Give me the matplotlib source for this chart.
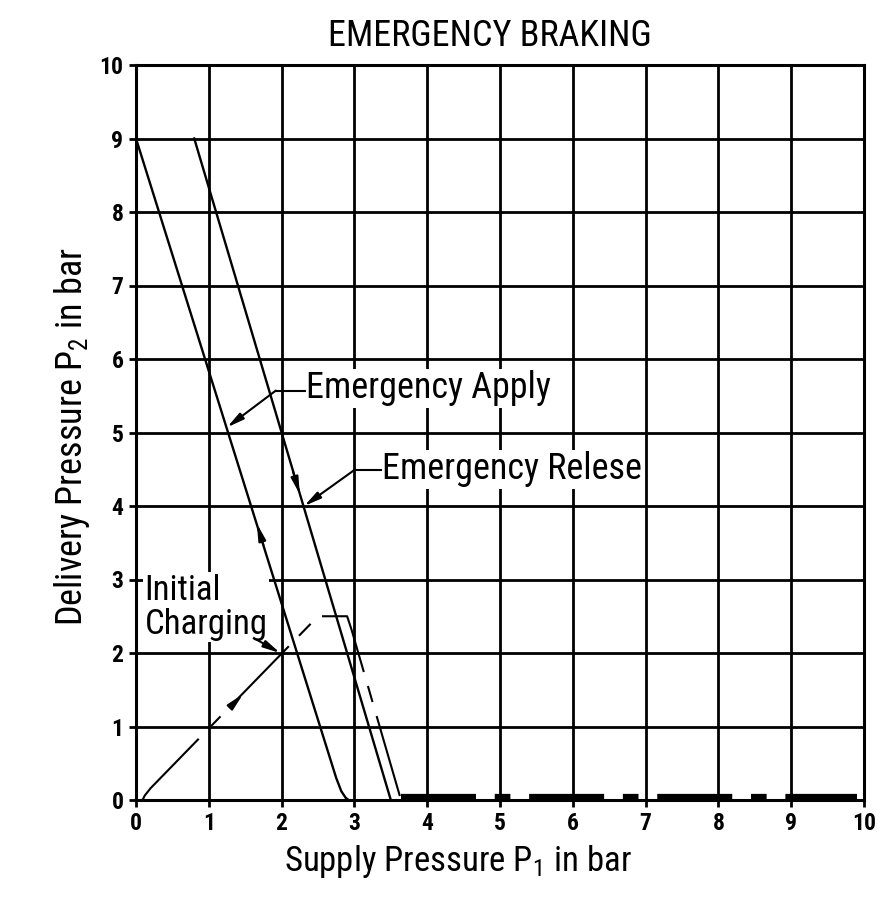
import numpy as np
import matplotlib
matplotlib.use('Agg')
import matplotlib.pyplot as plt

plt.rcParams['font.family'] = ['Roboto Condensed', 'DejaVu Sans']
plt.rcParams['mathtext.fontset'] = 'custom'
plt.rcParams['mathtext.rm'] = 'Roboto Condensed'
plt.rcParams['mathtext.it'] = 'Roboto Condensed'

# curves (x = supply pressure P1, y = delivery pressure P2)
apply_x = [0.0, 2.75, 2.82, 2.88, 2.92]
apply_y = [9.0, 0.30, 0.12, 0.03, 0.0]

release_x = [0.8, 3.5]
release_y = [9.0, 0.0]

charging_x = [0.09, 0.12, 0.20, 2.50, 2.90, 2.96, 3.64]
charging_y = [0.0, 0.06, 0.16, 2.50, 2.50, 2.32, 0.0]

base_x = [3.64, 9.9]
base_y = [0.04, 0.04]

# direction arrows on the curves (tail, tip)
dir_arrows = [((1.75, 3.47), (1.66, 3.76)),
              ((2.16, 4.46), (2.25, 4.16)),
              ((1.31, 1.28), (1.47, 1.44))]

ticks = list(range(0, 11))

fig = plt.figure(figsize=(8.92, 8.99), dpi=100)
ax = fig.add_axes([136 / 892, 99 / 899, 728 / 892, 735 / 899])

ax.set_xlim(0, 10)
ax.set_ylim(0, 10)
ax.set_xticks(ticks)
ax.set_yticks(ticks)
ax.grid(True, color='black', linewidth=2.0, zorder=0.5)
ax.set_axisbelow(True)
for sp in ax.spines.values():
    sp.set_linewidth(2.2)
ax.tick_params(direction='out', length=5, width=2, labelsize=17, pad=4)
for lab in ax.get_xticklabels() + ax.get_yticklabels():
    lab.set_fontweight('bold')

ax.plot(apply_x, apply_y, color='black', lw=1.7, zorder=3)
ax.plot(release_x, release_y, color='black', lw=1.7, zorder=3)
ax.plot(charging_x, charging_y, color='black', lw=1.5, zorder=3,
        dashes=(40, 7, 8, 7), dash_capstyle='butt', solid_joinstyle='miter')
ax.plot(base_x, base_y, color='black', lw=4.5, zorder=3,
        dashes=(12, 3, 2.5, 3), dash_capstyle='butt', clip_on=False)

head = '-|>,head_length=1.0,head_width=0.22'
for tail, tip in dir_arrows:
    ax.annotate('', xy=tip, xytext=tail, zorder=4,
                arrowprops=dict(arrowstyle=head, color='black', lw=1.5,
                                shrinkA=0, shrinkB=0))

txt_size = 26
box = dict(facecolor='white', edgecolor='none', pad=1)

# Emergency Apply
ax.text(2.33, 5.60, 'Emergency Apply', fontsize=txt_size, va='center', ha='left',
        bbox=box, zorder=1)
ax.plot([1.92, 2.32], [5.57, 5.57], color='black', lw=1.5, zorder=4)
ax.annotate('', xy=(1.25, 5.07), xytext=(1.92, 5.57), zorder=4,
            arrowprops=dict(arrowstyle=head, color='black', lw=1.5,
                            shrinkA=0, shrinkB=0))

# Emergency Release
ax.text(3.38, 4.50, 'Emergency Relese', fontsize=txt_size, va='center', ha='left',
        bbox=box, zorder=1)
ax.plot([3.0, 3.37], [4.49, 4.49], color='black', lw=1.5, zorder=4)
ax.annotate('', xy=(2.31, 4.0), xytext=(3.0, 4.49), zorder=4,
            arrowprops=dict(arrowstyle=head, color='black', lw=1.5,
                            shrinkA=0, shrinkB=0))

# Initial Charging
ax.text(0.12, 2.62, 'Initial\nCharging', fontsize=25, va='center', ha='left',
        linespacing=1.05, bbox=box, zorder=1)
ax.annotate('', xy=(1.98, 2.0), xytext=(1.66, 2.18), zorder=4,
            arrowprops=dict(arrowstyle=head, color='black', lw=1.5,
                            shrinkA=0, shrinkB=0))

ax.set_title('EMERGENCY BRAKING', fontsize=txt_size, x=0.486, y=1.015)
ax.set_xlabel('Supply Pressure P$_1$ in bar', fontsize=25)
ax.set_ylabel('Delivery Pressure P$_2$ in bar', fontsize=txt_size)
ax.xaxis.set_label_coords(0.442, -0.059)
ax.yaxis.set_label_coords(-0.061, 0.494)

fig.savefig('out.png', dpi=100)
